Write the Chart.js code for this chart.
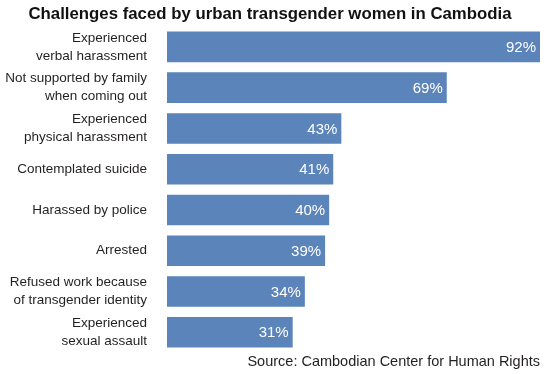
<!DOCTYPE html>
<html>
<head>
<meta charset="utf-8">
<script src="https://cdn.jsdelivr.net/npm/chart.js@4"></script>
<style>
  body { margin: 0; background: #fff; }
  #wrap { width: 546px; height: 374px; }
</style>
</head>
<body>
<div id="wrap"><canvas id="challengesChart" width="546" height="374"></canvas></div>
<script>
// ===== data =====
const categories = [
  ['Experienced', 'verbal harassment'],
  ['Not supported by family', 'when coming out'],
  ['Experienced', 'physical harassment'],
  'Contemplated suicide',
  'Harassed by police',
  'Arrested',
  ['Refused work because', 'of transgender identity'],
  ['Experienced', 'sexual assault']
];
const percents = [92, 69, 43, 41, 40, 39, 34, 31];
const titleText = 'Challenges faced by urban transgender women in Cambodia';
const sourceText = 'Source: Cambodian Center for Human Rights';

// ===== value labels inside bars =====
const barLabels = {
  id: 'barLabels',
  afterDatasetsDraw(chart) {
    const c = chart.ctx;
    const meta = chart.getDatasetMeta(0);
    c.save();
    c.fillStyle = '#ffffff';
    c.font = '15px "Liberation Sans", Arial, sans-serif';
    c.textAlign = 'right';
    c.textBaseline = 'middle';
    meta.data.forEach((bar, i) => {
      c.fillText(percents[i] + '%', bar.x - 4, bar.y + 1);
    });
    c.restore();
  }
};

// ===== chart =====
const ctx = document.getElementById('challengesChart').getContext('2d');
new Chart(ctx, {
  type: 'bar',
  data: {
    labels: categories,
    datasets: [{
      data: percents,
      backgroundColor: '#5b84ba',
      borderWidth: 0,
      categoryPercentage: 1,
      barPercentage: 0.75
    }]
  },
  options: {
    indexAxis: 'y',
    responsive: false,
    animation: false,
    layout: { padding: { left: 0, right: 6, top: 0, bottom: 0 } },
    plugins: {
      legend: { display: false },
      tooltip: { enabled: false },
      title: {
        display: true,
        text: titleText,
        color: '#111',
        font: { family: '"Liberation Sans Narrow", "Liberation Sans", Arial, sans-serif', size: 16.8, weight: 'bold', lineHeight: 1.34 },
        padding: { top: 3, bottom: 1 }
      },
      subtitle: {
        display: true,
        position: 'bottom',
        align: 'end',
        text: sourceText,
        color: '#231f20',
        font: { family: '"Liberation Sans", Arial, sans-serif', size: 14.5, lineHeight: 1.2 },
        padding: { top: 1, bottom: 3 }
      }
    },
    scales: {
      x: { display: false, min: 0, max: 92 },
      y: {
        grid: { display: false, drawTicks: false },
        border: { display: false },
        ticks: {
          color: '#231f20',
          padding: 20,
          font: { family: '"Liberation Sans", Arial, sans-serif', size: 13.5, lineHeight: 1.33 }
        },
        afterFit(scale) {
          scale.width = 167;
          scale.paddingTop = 0;
          scale.paddingBottom = 0;
        }
      }
    }
  },
  plugins: [barLabels]
});
</script>
</body>
</html>
